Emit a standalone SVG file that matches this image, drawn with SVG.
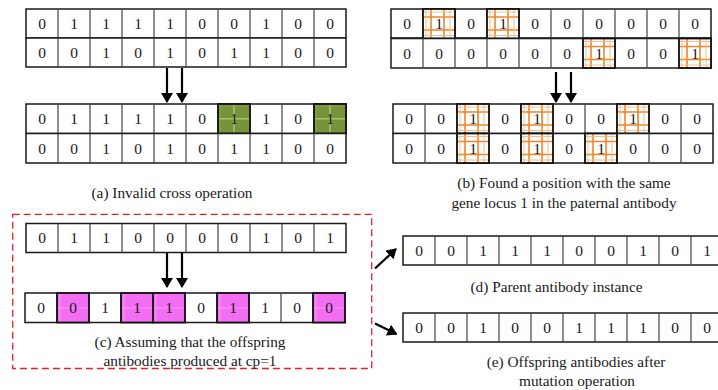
<svg xmlns="http://www.w3.org/2000/svg" xmlns:xlink="http://www.w3.org/1999/xlink" width="718" height="390" viewBox="0 0 718 390" font-family="'Liberation Serif', 'DejaVu Serif', 'Noto Serif', serif">
<style>
.box{fill:#fff;stroke:#1a1a1a;stroke-width:1.5}
.div{fill:none;stroke:#444;stroke-width:1.2}
.d{font-family:'Liberation Serif','DejaVu Serif',serif;font-size:15.5px;fill:#1a1a1a;text-anchor:middle}
.cap{font-family:'Liberation Serif','DejaVu Serif',serif;font-size:15.3px;fill:#1a1a1a;text-anchor:middle}
.arr{stroke:#000;stroke-width:2.2;fill:none;marker-end:url(#ah)}
.frame{fill:none;stroke:#e8202a;stroke-width:1.3;stroke-dasharray:7 4}
</style>
<defs>
<marker id="ah" markerUnits="userSpaceOnUse" viewBox="0 0 10 12" markerWidth="10" markerHeight="12" refX="9" refY="6" orient="auto">
<path d="M0 0L10 6L0 12z" fill="#000"/>
</marker>
<g id="green">
<rect width="32" height="29.5" fill="#77933c"/>
<path d="M16 0v29.5M0 14.75h32" stroke="#a5c46a" stroke-width="1.5"/>
<path d="M2 0v29.5M0 2h32" stroke="#8aa84c" stroke-width="0.8"/>
<rect width="32" height="29.5" fill="none" stroke="#111" stroke-width="1.8"/>
</g>
<g id="orange">
<rect width="32" height="29.5" fill="#fff"/>
<path d="M8 0v29.5M21 0v29.5M0 8h32M0 21h32" stroke="#f0852a" stroke-width="1.6"/>
<path d="M3 0v29.5M27 0v29.5M0 3h32M0 26.5h32" stroke="#f7b57a" stroke-width="0.9"/>
<rect width="32" height="29.5" fill="none" stroke="#111" stroke-width="1.8"/>
</g>
<g id="magenta">
<rect width="32" height="29.5" fill="#f46ef4"/>
<path d="M3 0v29.5M0 15h32" stroke="#fb9cfb" stroke-width="0.9"/>
<rect width="32" height="29.5" fill="none" stroke="#111" stroke-width="1.8"/>
</g>
</defs>

<!-- (a) top grid -->
<g id="a-top-row1">
<rect class="box" x="26" y="9" width="320" height="29"/>
<path class="div" d="M58 9v29M90 9v29M122 9v29M154 9v29M186 9v29M218 9v29M250 9v29M282 9v29M314 9v29"/>
<text class="d" x="42" y="28.5">0</text><text class="d" x="74" y="28.5">1</text><text class="d" x="106" y="28.5">1</text><text class="d" x="138" y="28.5">1</text><text class="d" x="170" y="28.5">1</text><text class="d" x="202" y="28.5">0</text><text class="d" x="234" y="28.5">0</text><text class="d" x="266" y="28.5">1</text><text class="d" x="298" y="28.5">0</text><text class="d" x="330" y="28.5">0</text>
</g>
<g id="a-top-row2">
<rect class="box" x="26" y="38" width="320" height="29"/>
<path class="div" d="M58 38v29M90 38v29M122 38v29M154 38v29M186 38v29M218 38v29M250 38v29M282 38v29M314 38v29"/>
<text class="d" x="42" y="57.5">0</text><text class="d" x="74" y="57.5">0</text><text class="d" x="106" y="57.5">1</text><text class="d" x="138" y="57.5">0</text><text class="d" x="170" y="57.5">1</text><text class="d" x="202" y="57.5">0</text><text class="d" x="234" y="57.5">1</text><text class="d" x="266" y="57.5">1</text><text class="d" x="298" y="57.5">0</text><text class="d" x="330" y="57.5">0</text>
</g>

<!-- (a) bottom grid -->
<g id="a-bot-row1">
<rect class="box" x="26" y="104" width="320" height="29.5"/>
<path class="div" d="M58 104v29.5M90 104v29.5M122 104v29.5M154 104v29.5M186 104v29.5M218 104v29.5M250 104v29.5M282 104v29.5M314 104v29.5"/>
<use xlink:href="#green" x="218" y="104"/>
<use xlink:href="#green" x="314" y="104"/>
<text class="d" x="42" y="124">0</text><text class="d" x="74" y="124">1</text><text class="d" x="106" y="124">1</text><text class="d" x="138" y="124">1</text><text class="d" x="170" y="124">1</text><text class="d" x="202" y="124">0</text><text class="d" x="234" y="124">1</text><text class="d" x="266" y="124">1</text><text class="d" x="298" y="124">0</text><text class="d" x="330" y="124">1</text>
</g>
<g id="a-bot-row2">
<rect class="box" x="26" y="133.5" width="320" height="29.5"/>
<path class="div" d="M58 133.5v29.5M90 133.5v29.5M122 133.5v29.5M154 133.5v29.5M186 133.5v29.5M218 133.5v29.5M250 133.5v29.5M282 133.5v29.5M314 133.5v29.5"/>
<text class="d" x="42" y="153.5">0</text><text class="d" x="74" y="153.5">0</text><text class="d" x="106" y="153.5">1</text><text class="d" x="138" y="153.5">0</text><text class="d" x="170" y="153.5">1</text><text class="d" x="202" y="153.5">0</text><text class="d" x="234" y="153.5">1</text><text class="d" x="266" y="153.5">1</text><text class="d" x="298" y="153.5">0</text><text class="d" x="330" y="153.5">0</text>
</g>
<text id="cap-a" class="cap" x="172" y="198">(a) Invalid cross operation</text>

<!-- (b) top grid -->
<g id="b-top-row1">
<rect class="box" x="391" y="9" width="320" height="29"/>
<path class="div" d="M423 9v29M455 9v29M487 9v29M519 9v29M551 9v29M583 9v29M615 9v29M647 9v29M679 9v29"/>
<use xlink:href="#orange" x="423" y="9"/>
<use xlink:href="#orange" x="487" y="9"/>
<text class="d" x="407" y="28.5">0</text><text class="d" x="439" y="28.5">1</text><text class="d" x="471" y="28.5">0</text><text class="d" x="503" y="28.5">1</text><text class="d" x="535" y="28.5">0</text><text class="d" x="567" y="28.5">0</text><text class="d" x="599" y="28.5">0</text><text class="d" x="631" y="28.5">0</text><text class="d" x="663" y="28.5">0</text><text class="d" x="695" y="28.5">0</text>
</g>
<g id="b-top-row2">
<rect class="box" x="391" y="38.5" width="320" height="29.5"/>
<path class="div" d="M423 38.5v29.5M455 38.5v29.5M487 38.5v29.5M519 38.5v29.5M551 38.5v29.5M583 38.5v29.5M615 38.5v29.5M647 38.5v29.5M679 38.5v29.5"/>
<use xlink:href="#orange" x="583" y="38.5"/>
<use xlink:href="#orange" x="679" y="38.5"/>
<text class="d" x="407" y="58.5">0</text><text class="d" x="439" y="58.5">0</text><text class="d" x="471" y="58.5">0</text><text class="d" x="503" y="58.5">0</text><text class="d" x="535" y="58.5">0</text><text class="d" x="567" y="58.5">0</text><text class="d" x="599" y="58.5">1</text><text class="d" x="631" y="58.5">0</text><text class="d" x="663" y="58.5">0</text><text class="d" x="695" y="58.5">1</text>
</g>

<!-- (b) bottom grid -->
<g id="b-bot-row1">
<rect class="box" x="393" y="104" width="320" height="29.5"/>
<path class="div" d="M425 104v29.5M457 104v29.5M489 104v29.5M521 104v29.5M553 104v29.5M585 104v29.5M617 104v29.5M649 104v29.5M681 104v29.5"/>
<use xlink:href="#orange" x="457" y="104"/>
<use xlink:href="#orange" x="521" y="104"/>
<use xlink:href="#orange" x="617" y="104"/>
<text class="d" x="409" y="124">0</text><text class="d" x="441" y="124">0</text><text class="d" x="473" y="124">1</text><text class="d" x="505" y="124">0</text><text class="d" x="537" y="124">1</text><text class="d" x="569" y="124">0</text><text class="d" x="601" y="124">0</text><text class="d" x="633" y="124">1</text><text class="d" x="665" y="124">0</text><text class="d" x="697" y="124">0</text>
</g>
<g id="b-bot-row2">
<rect class="box" x="393" y="133.5" width="320" height="29.5"/>
<path class="div" d="M425 133.5v29.5M457 133.5v29.5M489 133.5v29.5M521 133.5v29.5M553 133.5v29.5M585 133.5v29.5M617 133.5v29.5M649 133.5v29.5M681 133.5v29.5"/>
<use xlink:href="#orange" x="457" y="133.5"/>
<use xlink:href="#orange" x="521" y="133.5"/>
<use xlink:href="#orange" x="585" y="133.5"/>
<text class="d" x="409" y="153.5">0</text><text class="d" x="441" y="153.5">0</text><text class="d" x="473" y="153.5">1</text><text class="d" x="505" y="153.5">0</text><text class="d" x="537" y="153.5">1</text><text class="d" x="569" y="153.5">0</text><text class="d" x="601" y="153.5">1</text><text class="d" x="633" y="153.5">0</text><text class="d" x="665" y="153.5">0</text><text class="d" x="697" y="153.5">0</text>
</g>
<text id="cap-b" class="cap" x="564" y="188"><tspan x="564">(b) Found a position with the same</tspan><tspan x="564" dy="20">gene locus 1 in the paternal antibody</tspan></text>

<!-- (c) -->
<rect id="frame-c" class="frame" x="12.7" y="214.3" width="359" height="154.2"/>
<g id="c-top">
<rect class="box" x="26" y="223.5" width="320" height="29"/>
<path class="div" d="M58 223.5v29M90 223.5v29M122 223.5v29M154 223.5v29M186 223.5v29M218 223.5v29M250 223.5v29M282 223.5v29M314 223.5v29"/>
<text class="d" x="42" y="243">0</text><text class="d" x="74" y="243">1</text><text class="d" x="106" y="243">1</text><text class="d" x="138" y="243">0</text><text class="d" x="170" y="243">0</text><text class="d" x="202" y="243">0</text><text class="d" x="234" y="243">0</text><text class="d" x="266" y="243">1</text><text class="d" x="298" y="243">0</text><text class="d" x="330" y="243">1</text>
</g>
<g id="c-bot">
<rect class="box" x="25" y="293" width="320" height="29.5"/>
<path class="div" d="M57 293v29.5M89 293v29.5M121 293v29.5M153 293v29.5M185 293v29.5M217 293v29.5M249 293v29.5M281 293v29.5M313 293v29.5"/>
<use xlink:href="#magenta" x="57" y="293"/>
<use xlink:href="#magenta" x="121" y="293"/>
<use xlink:href="#magenta" x="153" y="293"/>
<use xlink:href="#magenta" x="217" y="293"/>
<use xlink:href="#magenta" x="313" y="293"/>
<text class="d" x="41" y="313">0</text><text class="d" x="73" y="313">0</text><text class="d" x="105" y="313">1</text><text class="d" x="137" y="313">1</text><text class="d" x="169" y="313">1</text><text class="d" x="201" y="313">0</text><text class="d" x="233" y="313">1</text><text class="d" x="265" y="313">1</text><text class="d" x="297" y="313">0</text><text class="d" x="329" y="313">0</text>
</g>
<text id="cap-c" class="cap" x="190" y="346.5"><tspan x="190">(c) Assuming that the offspring</tspan><tspan x="190" dy="19">antibodies produced at cp=1</tspan></text>

<!-- (d) -->
<g id="d-row">
<rect class="box" x="403" y="236" width="320" height="29"/>
<path class="div" d="M435 236v29M467 236v29M499 236v29M531 236v29M563 236v29M595 236v29M627 236v29M659 236v29M691 236v29"/>
<text class="d" x="419" y="255.5">0</text><text class="d" x="451" y="255.5">0</text><text class="d" x="483" y="255.5">1</text><text class="d" x="515" y="255.5">1</text><text class="d" x="547" y="255.5">1</text><text class="d" x="579" y="255.5">0</text><text class="d" x="611" y="255.5">0</text><text class="d" x="643" y="255.5">1</text><text class="d" x="675" y="255.5">0</text><text class="d" x="707" y="255.5">1</text>
</g>
<text id="cap-d" class="cap" x="556.5" y="291.5">(d) Parent antibody instance</text>

<!-- (e) -->
<g id="e-row">
<rect class="box" x="403" y="313" width="320" height="29"/>
<path class="div" d="M435 313v29M467 313v29M499 313v29M531 313v29M563 313v29M595 313v29M627 313v29M659 313v29M691 313v29"/>
<text class="d" x="419" y="332.5">0</text><text class="d" x="451" y="332.5">0</text><text class="d" x="483" y="332.5">1</text><text class="d" x="515" y="332.5">0</text><text class="d" x="547" y="332.5">0</text><text class="d" x="579" y="332.5">1</text><text class="d" x="611" y="332.5">1</text><text class="d" x="643" y="332.5">1</text><text class="d" x="675" y="332.5">0</text><text class="d" x="707" y="332.5">0</text>
</g>
<text id="cap-e" class="cap" x="576" y="366.5"><tspan x="576">(e) Offspring antibodies after</tspan><tspan x="577" dy="19.5">mutation operation</tspan></text>

<!-- connectors -->
<g id="connectors">
<line class="arr" x1="167" y1="68" x2="167" y2="102"/>
<line class="arr" x1="182" y1="68" x2="182" y2="102"/>
<line class="arr" x1="556" y1="72" x2="556" y2="102"/>
<line class="arr" x1="571" y1="72" x2="571" y2="102"/>
<line class="arr" x1="167" y1="253" x2="167" y2="287"/>
<line class="arr" x1="182" y1="253" x2="182" y2="287"/>
<line class="arr" x1="375" y1="268.5" x2="396" y2="249"/>
<line class="arr" x1="375" y1="323.5" x2="396.5" y2="334"/>
</g>
</svg>
